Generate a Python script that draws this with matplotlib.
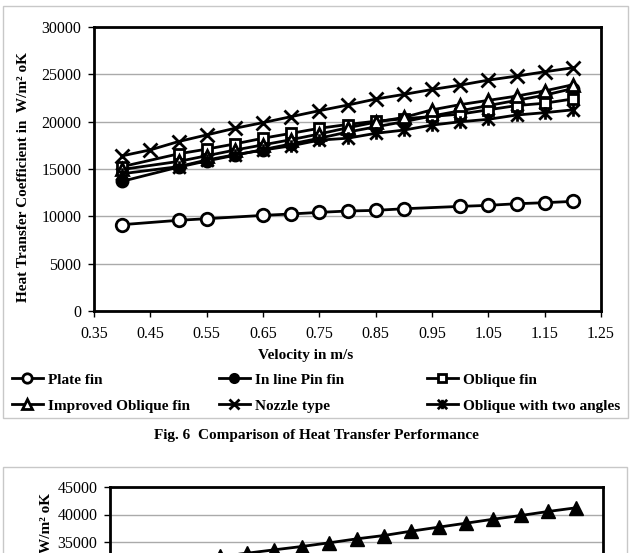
import matplotlib.pyplot as plt
from matplotlib.patches import Rectangle
from matplotlib.path import Path

plt.rcParams['font.family'] = ['Liberation Serif', 'DejaVu Serif']

# =========================================================
# DATA
# =========================================================

vel_plate = [0.40, 0.50, 0.55, 0.65, 0.70, 0.75, 0.80, 0.85, 0.90, 1.00, 1.05, 1.10, 1.15, 1.20]
h_plate = [9120, 9580, 9750, 10100, 10250, 10420, 10560, 10630, 10800, 11050, 11160, 11330, 11440, 11580]

vel_nozzle = [0.40, 0.45, 0.50, 0.55, 0.60, 0.65, 0.70, 0.75, 0.80, 0.85,
              0.90, 0.95, 1.00, 1.05, 1.10, 1.15, 1.20]
h_nozzle = [16390, 17020, 17900, 18600, 19300, 19900, 20530, 21160, 21750, 22390,
            22880, 23400, 23860, 24390, 24810, 25270, 25690]

vel = [0.40, 0.50, 0.55, 0.60, 0.65, 0.70, 0.75, 0.80, 0.85,
       0.90, 0.95, 1.00, 1.05, 1.10, 1.15, 1.20]
h_inline = [13700, 15200, 15850, 16450, 17050, 17650, 18250, 18900, 19450,
            20000, 20600, 21150, 21700, 22250, 22800, 23500]
h_oblique = [15250, 16600, 17100, 17650, 18250, 18770, 19300, 19700, 20050,
             20300, 20550, 20800, 21250, 21700, 21950, 22400]
h_improved = [14950, 15800, 16400, 17000, 17550, 18100, 18700, 19350, 19950,
              20450, 21250, 21800, 22250, 22700, 23250, 23900]
h_two_angles = [14500, 15250, 15950, 16500, 17000, 17450, 18050, 18250, 18770,
                19110, 19640, 19990, 20250, 20700, 20950, 21250]

# next figure on the page (only its top is visible)
vel_fig7 = [0.40, 0.45, 0.50, 0.55, 0.60, 0.65, 0.70, 0.75, 0.80, 0.85,
            0.90, 0.95, 1.00, 1.05, 1.10, 1.15, 1.20]
h_fig7 = [30600, 31200, 31800, 32400, 32960, 33580, 34180, 34850, 35570, 36180,
          36970, 37700, 38420, 39150, 39820, 40550, 41210]

x_ticks = [0.35, 0.45, 0.55, 0.65, 0.75, 0.85, 0.95, 1.05, 1.15, 1.25]

# Excel style "star" marker: an X with a vertical bar
star = Path([(0, -1), (0, 1), (-1, -1), (1, 1), (-1, 1), (1, -1)],
            [Path.MOVETO, Path.LINETO, Path.MOVETO, Path.LINETO, Path.MOVETO, Path.LINETO])

W, H = 632, 553
fig = plt.figure(figsize=(W / 100, H / 100), dpi=100)


def px_axes(left, top, right, bottom):
    return fig.add_axes([left / W, 1 - bottom / H, (right - left) / W, (bottom - top) / H])


def style_axes(ax, ymin, ymax):
    ax.set_xlim(0.35, 1.25)
    ax.set_ylim(ymin, ymax)
    ax.set_xticks(x_ticks)
    ax.set_xticklabels([f"{t:.2f}" for t in x_ticks])
    ax.set_yticks(range(ymin, ymax + 1, 5000))
    ax.grid(axis='y', color='#aaaaaa', lw=1)
    ax.set_axisbelow(True)
    for s in ax.spines.values():
        s.set_linewidth(2)
        s.set_color('black')
    ax.tick_params(direction='out', length=4, width=1, labelsize=11.5, pad=5)
    ax.tick_params(axis='x', pad=7)


# chart area frames
fig.add_artist(Rectangle((3 / W, 1 - 418 / H), 625 / W, 412 / H, transform=fig.transFigure,
                         fill=False, edgecolor='#c8c8c8', lw=1))
fig.add_artist(Rectangle((3 / W, -0.2), 624 / W, 1 - 467 / H + 0.2, transform=fig.transFigure,
                         fill=False, edgecolor='#c8c8c8', lw=1))

# =========================================================
# FIG. 6
# =========================================================

ax = px_axes(94, 27, 601, 311)
style_axes(ax, 0, 30000)

kw = dict(color='black', lw=2, mew=2)
l1, = ax.plot(vel_plate, h_plate, marker='o', ms=9, mfc='white', **kw)
l2, = ax.plot(vel, h_inline, marker='o', ms=8, mfc='black', **kw)
l3, = ax.plot(vel, h_oblique, marker='s', ms=7.5, mfc='white', **kw)
l4, = ax.plot(vel, h_improved, marker='^', ms=9, mfc='white', **kw)
l5, = ax.plot(vel_nozzle, h_nozzle, marker='x', ms=10, **kw)
l6, = ax.plot(vel, h_two_angles, marker=star, ms=9, **kw)

fig.text(306 / W, 1 - 355 / H, "Velocity in m/s", ha='center', va='center',
         fontsize=11, fontweight='bold')
fig.text(24 / W, 1 - 177 / H, "Heat Transfer Coefficient in  W/m² oK", rotation=90,
         ha='center', va='center', fontsize=11, fontweight='bold')

# legend: three columns placed like the Excel legend
cols = [(12, [l1, l4], ["Plate fin", "Improved Oblique fin"]),
        (219, [l2, l5], ["In line Pin fin", "Nozzle type"]),
        (427, [l3, l6], ["Oblique fin", "Oblique with two angles"])]
for x0, handles, labels in cols:
    fig.legend(handles, labels, loc='upper left', bbox_to_anchor=(x0 / W, 1 - 373 / H),
               frameon=False, markerscale=0.75, handlelength=2.0, handletextpad=0.35,
               labelspacing=0.8, borderaxespad=0, borderpad=0,
               prop={'size': 11, 'weight': 'bold'})

fig.text(316 / W, 1 - 436 / H, "Fig. 6  Comparison of Heat Transfer Performance",
         ha='center', va='center', fontsize=11, fontweight='bold')

# =========================================================
# NEXT FIGURE (cut off by the page)
# =========================================================

ax2 = px_axes(110, 487, 603, 487 + 3 * 27.5)
style_axes(ax2, 30000, 45000)
ax2.set_yticks([35000, 40000, 45000])
ax2.tick_params(axis='x', labelbottom=False)
ax2.plot(vel_fig7, h_fig7, marker='^', ms=10, mfc='black', color='black', lw=2)
fig.text(47 / W, 1 - 493 / H, "W/m² oK", rotation=90,
         ha='center', va='top', fontsize=11, fontweight='bold')

fig.savefig("out.png", dpi=100)
